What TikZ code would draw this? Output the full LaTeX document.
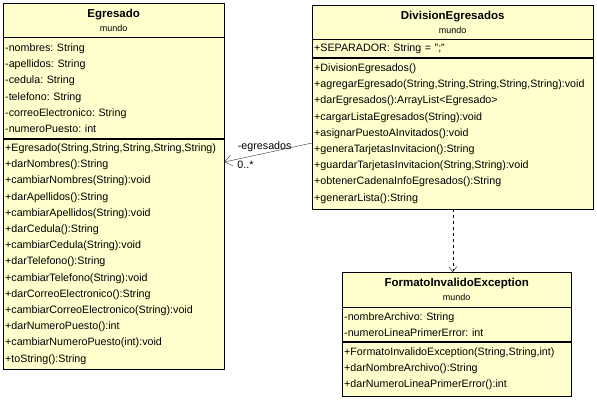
\documentclass[tikz,border=0pt]{standalone}
\usepackage{fontspec}
\setmainfont{Liberation Sans}
\usetikzlibrary{arrows.meta, positioning}
\definecolor{umlfill}{RGB}{255,255,206}
\newcommand{\pkgname}[1]{{\mdseries\fontsize{9}{11}\selectfont #1}}

\begin{document}
\frenchspacing
\begin{tikzpicture}[
    x=1pt, y=-1pt,
    node distance=0pt,
    head/.style={draw, rectangle, fill=umlfill, align=center, inner sep=0pt, font=\fontsize{11.5}{14}\selectfont\bfseries},
    body/.style={draw, rectangle, fill=umlfill, align=left, inner xsep=2pt, inner ysep=0pt, font=\fontsize{10.7}{16.2}\selectfont},
    lbl/.style={inner sep=1pt, font=\fontsize{10.7}{13}\selectfont},
    assoc/.style={-{Straight Barb[length=7pt,width=11pt]}, draw=black!80},
    dep/.style={-{Straight Barb[length=5pt,width=8pt]}, dash pattern=on 3pt off 3pt}
]
\fill[white] (0,0) rectangle (597,401);
\useasboundingbox (0,0) rectangle (597,401);

\node[head, minimum width=221pt, minimum height=34pt, anchor=north west] (egh) at (3,3) {Egresado\\\pkgname{mundo}};
\node[body, text width=217pt, minimum height=101pt, below=0pt of egh] (ega) {-nombres: String\\-apellidos: String\\-cedula: String\\-telefono: String\\-correoElectronico: String\\-numeroPuesto: int};
\node[body, text width=217pt, minimum height=230pt, below=0pt of ega] (egm) {+Egresado(String,String,String,String,String)\\+darNombres():String\\+cambiarNombres(String):void\\+darApellidos():String\\+cambiarApellidos(String):void\\+darCedula():String\\+cambiarCedula(String):void\\+darTelefono():String\\+cambiarTelefono(String):void\\+darCorreoElectronico():String\\+cambiarCorreoElectronico(String):void\\+darNumeroPuesto():int\\+cambiarNumeroPuesto(int):void\\+toString():String};

\node[head, minimum width=281pt, minimum height=34pt, anchor=north west] (divh) at (312,5) {DivisionEgresados\\\pkgname{mundo}};
\node[body, text width=277pt, minimum height=18pt, below=0pt of divh] (diva) {+SEPARADOR: String = ";"};
\node[body, text width=277pt, minimum height=151pt, below=0pt of diva] (divm) {+DivisionEgresados()\\+agregarEgresado(String,String,String,String,String):void\\+darEgresados():ArrayList<Egresado>\\+cargarListaEgresados(String):void\\+asignarPuestoAInvitados():void\\+generaTarjetasInvitacion():String\\+guardarTarjetasInvitacion(String,String):void\\+obtenerCadenaInfoEgresados():String\\+generarLista():String};

\node[head, minimum width=229pt, minimum height=35pt, anchor=north west] (fmh) at (342,272) {FormatoInvalidoException\\\pkgname{mundo}};
\node[body, text width=225pt, minimum height=34pt, below=0pt of fmh] (fma) {-nombreArchivo: String\\-numeroLineaPrimerError: int};
\node[body, text width=225pt, minimum height=54pt, below=0pt of fma] (fmm) {+FormatoInvalidoException(String,String,int)\\+darNombreArchivo():String\\+darNumeroLineaPrimerError():int};

\draw[assoc] ([yshift=-9.5pt]divm.west) -- node[lbl, pos=.54, above=0pt] {-egresados} node[lbl, pos=.76, below=2pt] {0..*} ([yshift=92pt]egm.east);
\draw[dep] (divm.south) -- (divm.south |- fmh.north);
\end{tikzpicture}
\end{document}
